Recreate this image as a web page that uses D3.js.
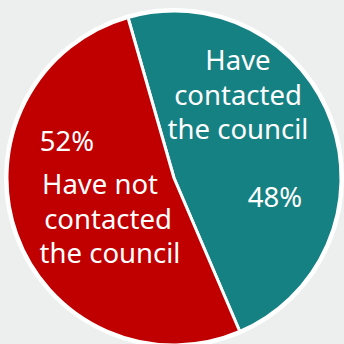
<!DOCTYPE html>
<html>
<head>
<meta charset="utf-8">
<script src="https://cdn.jsdelivr.net/npm/d3@7/dist/d3.min.js"></script>
<style>
  html, body { margin: 0; padding: 0; background: #edeeee; }
  svg { display: block; }
</style>
</head>
<body>
<script>
// Share of residents who have / have not contacted the council
const categories = ["Have contacted the council", "Have not contacted the council"];
const values = [48, 52];
const percentLabels = ["48%", "52%"];
const nameLines = [
  ["Have", "contacted", "the council"],
  ["Have not", "contacted", "the council"]
];
const colors = ["#168183", "#c00000"];

const W = 344, H = 344;
const cx = 174, cy = 178, R = 167;

const svg = d3.select("body").append("svg")
  .attr("width", W).attr("height", H);

svg.append("rect").attr("width", W).attr("height", H).attr("fill", "#edeeee");

const g = svg.append("g").attr("transform", `translate(${cx},${cy})`);

// white rim around the pie
g.append("circle").attr("r", R + 3).attr("fill", "#ffffff");

const start = -16 * Math.PI / 180;
const pie = d3.pie().sort(null).startAngle(start).endAngle(start + 2 * Math.PI);
const arc = d3.arc().innerRadius(0).outerRadius(R);

const arcs = pie(values);

g.selectAll("path.slice").data(arcs).join("path")
  .attr("class", "slice")
  .attr("d", arc)
  .attr("fill", (d, i) => colors[i])
  .attr("stroke", "#ffffff")
  .attr("stroke-width", 3)
  .attr("stroke-linejoin", "round");

const font = "'Noto Sans', 'Open Sans', sans-serif";
const fs = 27.5;

// label anchors (relative to pie centre)
const nameAnchor = [{x: 64, y: -108}, {x: -66, y: 16}];
const nameLineX = [[0, 0, 0], [-8, 0, 2]];
const lineGap = 34.5;
const pctAnchor = [{x: 101, y: 29}, {x: -107, y: -27}];

arcs.forEach((d, i) => {
  const t = g.append("text")
    .attr("font-family", font)
    .attr("font-size", fs)
    .attr("fill", "#ffffff")
    .attr("text-anchor", "middle");
  nameLines[i].forEach((line, j) => {
    t.append("tspan")
      .attr("x", nameAnchor[i].x + nameLineX[i][j])
      .attr("y", nameAnchor[i].y + j * lineGap)
      .text(line);
  });
  g.append("text")
    .attr("x", pctAnchor[i].x)
    .attr("y", pctAnchor[i].y)
    .attr("font-family", font)
    .attr("font-size", fs)
    .attr("fill", "#ffffff")
    .attr("text-anchor", "middle")
    .text(percentLabels[i]);
});
</script>
</body>
</html>
